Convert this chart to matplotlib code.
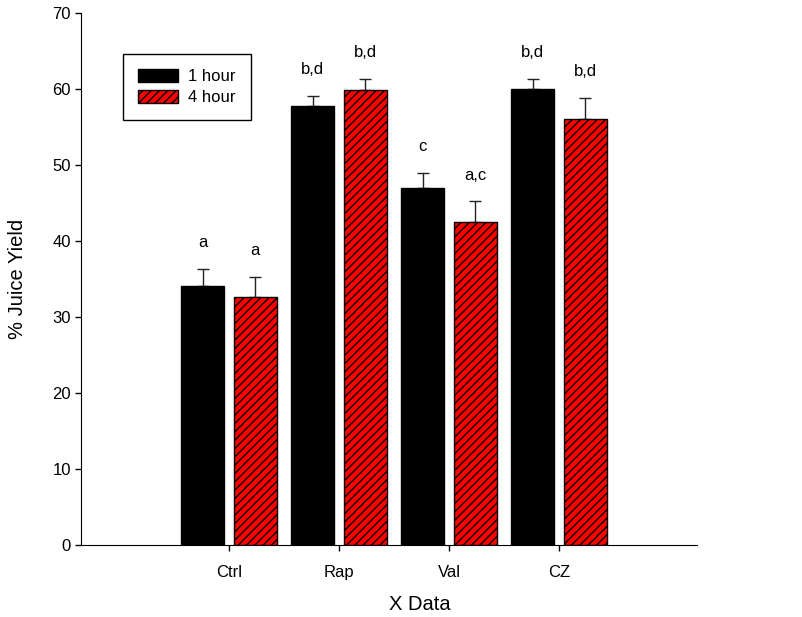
import matplotlib
matplotlib.use("Agg")
import matplotlib.pyplot as plt
import numpy as np

plt.rcParams["font.family"] = ["Liberation Sans", "DejaVu Sans"]
plt.rcParams["hatch.linewidth"] = 1.0

# ─────────── Datos ───────────
categorias = ["Ctrl", "Rap", "Val", "CZ"]
yield_1h   = [34.1, 57.7, 47.0, 60.0]
err_1h     = [2.2, 1.4, 2.0, 1.3]
yield_4h   = [32.6, 59.9, 42.5, 56.1]
err_4h     = [2.7, 1.4, 2.7, 2.7]
letras_1h  = ["a", "b,d", "c", "b,d"]
letras_4h  = ["a", "b,d", "a,c", "b,d"]

# ─────────── Figura ───────────
W, H = 803, 617
fig = plt.figure(figsize=(W / 100, H / 100), dpi=100)
ax = fig.add_axes([81 / W, 72 / H, (697 - 81) / W, (545 - 13) / H])

x = np.arange(1, len(categorias) + 1)
ancho = 0.39
off = 0.24

ax.bar(x - off, yield_1h, ancho, color="black", edgecolor="black",
       linewidth=1.0, label="1 hour", zorder=2)
ax.bar(x + off, yield_4h, ancho, color="#ff0000", edgecolor="black",
       hatch="////", linewidth=1.0, label="4 hour", zorder=2)

# barras de error sólo hacia arriba
for xs, ys, es in [(x - off, yield_1h, err_1h), (x + off, yield_4h, err_4h)]:
    ax.errorbar(xs, ys, yerr=[np.zeros(len(es)), es], fmt="none",
                ecolor="#222222", elinewidth=1.0, capsize=4.3,
                capthick=1.0, zorder=1)

# letras de significancia
for xs, ys, es, ts in [(x - off, yield_1h, err_1h, letras_1h),
                       (x + off, yield_4h, err_4h, letras_4h)]:
    for xi, v, e, t in zip(xs, ys, es, ts):
        ax.annotate(t, (xi, v + e), xytext=(0, 19),
                    textcoords="offset points",
                    ha="center", va="center", fontsize=12)

ax.set_xlim(1 - 148 / 110, 1 + 468 / 110)
ax.set_ylim(0, 70)
ax.set_xticks(x)
ax.set_xticklabels(categorias)
ax.set_yticks(range(0, 71, 10))
ax.spines["top"].set_visible(False)
ax.spines["right"].set_visible(False)
ax.tick_params(direction="out", length=4.3, width=1.0, labelsize=12)
ax.tick_params(axis="x", pad=10)
ax.tick_params(axis="y", pad=3)
ax.set_xlabel("X Data", fontsize=14.5)
ax.set_ylabel("% Juice Yield", fontsize=14.5)
ax.xaxis.set_label_coords((420 - 81) / 616, -(605 - 545) / 532)
ax.yaxis.set_label_coords(-(81 - 18) / 616, 0.5)
ax.xaxis.label.set_va("center")
ax.yaxis.label.set_va("center")

leg = ax.legend(loc="upper left", bbox_to_anchor=(123 / W, 1 - 54 / H),
                bbox_transform=fig.transFigure, fancybox=False,
                edgecolor="black", framealpha=1, fontsize=12,
                handlelength=2.4, handleheight=0.8, handletextpad=0.6,
                labelspacing=0.35, borderpad=0.9, borderaxespad=0)
leg.get_frame().set_linewidth(1.0)

fig.savefig("out.png", dpi=100)
